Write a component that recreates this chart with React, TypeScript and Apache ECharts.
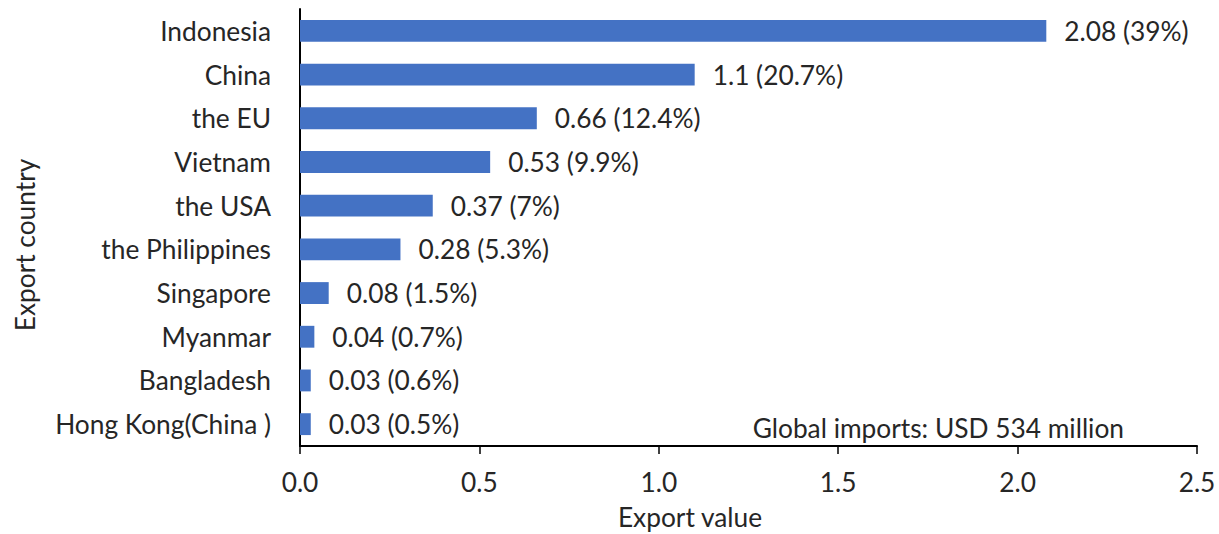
import React, { useEffect, useRef } from "react";
import * as echarts from "echarts";

const categories = [
  "Indonesia",
  "China",
  "the EU",
  "Vietnam",
  "the USA",
  "the Philippines",
  "Singapore",
  "Myanmar",
  "Bangladesh",
  "Hong Kong(China )",
];
const values = [2.08, 1.1, 0.66, 0.53, 0.37, 0.28, 0.08, 0.04, 0.03, 0.03];
const shares = ["39%", "20.7%", "12.4%", "9.9%", "7%", "5.3%", "1.5%", "0.7%", "0.6%", "0.5%"];
const xTicks = [0, 0.5, 1, 1.5, 2, 2.5];
const note = "Global imports: USD 534 million";

const FONT = "Lato";
const TEXT = "#262626";
const FS = 26.3;

export default function App() {
  const ref = useRef<HTMLDivElement>(null);
  useEffect(() => {
    if (!ref.current) return;
    const chart = echarts.init(ref.current, undefined, { renderer: "svg" });
    chart.setOption({
      animation: false,
      textStyle: { fontFamily: FONT },
      grid: { left: 300, right: 22, top: 9, bottom: 88, containLabel: false },
      xAxis: {
        type: "value",
        min: xTicks[0],
        max: xTicks[xTicks.length - 1],
        interval: 0.5,
        axisLine: { show: true, lineStyle: { color: "#000", width: 2 } },
        axisTick: { show: true, length: 8, lineStyle: { color: "#000", width: 1.5 } },
        splitLine: { show: false },
        axisLabel: {
          color: TEXT,
          fontSize: FS,
          fontFamily: FONT,
          margin: 23,
          formatter: (v: number) => v.toFixed(1),
        },
      },
      yAxis: {
        type: "category",
        data: categories,
        inverse: true,
        axisLine: { show: true, lineStyle: { color: "#000", width: 2 } },
        axisTick: { show: false },
        axisLabel: { color: TEXT, fontSize: FS, fontFamily: FONT, margin: 29 },
      },
      series: [
        {
          type: "bar",
          data: values,
          barCategoryGap: "50%",
          itemStyle: { color: "#4472C4" },
          label: {
            show: true,
            position: "right",
            distance: 18,
            color: TEXT,
            fontSize: FS,
            fontFamily: FONT,
            formatter: (p: any) => `${values[p.dataIndex]} (${shares[p.dataIndex]})`,
          },
        },
      ],
      graphic: [
        {
          type: "text",
          x: 1124,
          y: 428,
          style: {
            text: note,
            fill: TEXT,
            fontSize: FS,
            fontFamily: FONT,
            align: "right",
            verticalAlign: "middle",
          },
        },
        {
          type: "text",
          x: 690,
          y: 517,
          style: {
            text: "Export value",
            fill: TEXT,
            fontSize: FS,
            fontFamily: FONT,
            align: "center",
            verticalAlign: "middle",
          },
        },
        {
          type: "text",
          x: 25,
          y: 245,
          rotation: Math.PI / 2,
          style: {
            text: "Export country",
            fill: TEXT,
            fontSize: FS,
            fontFamily: FONT,
            align: "center",
            verticalAlign: "middle",
          },
        },
      ],
    });
    return () => chart.dispose();
  }, []);
  return <div ref={ref} style={{ width: 1219, height: 534, position: "absolute", left: 0, top: 0 }} />;
}
